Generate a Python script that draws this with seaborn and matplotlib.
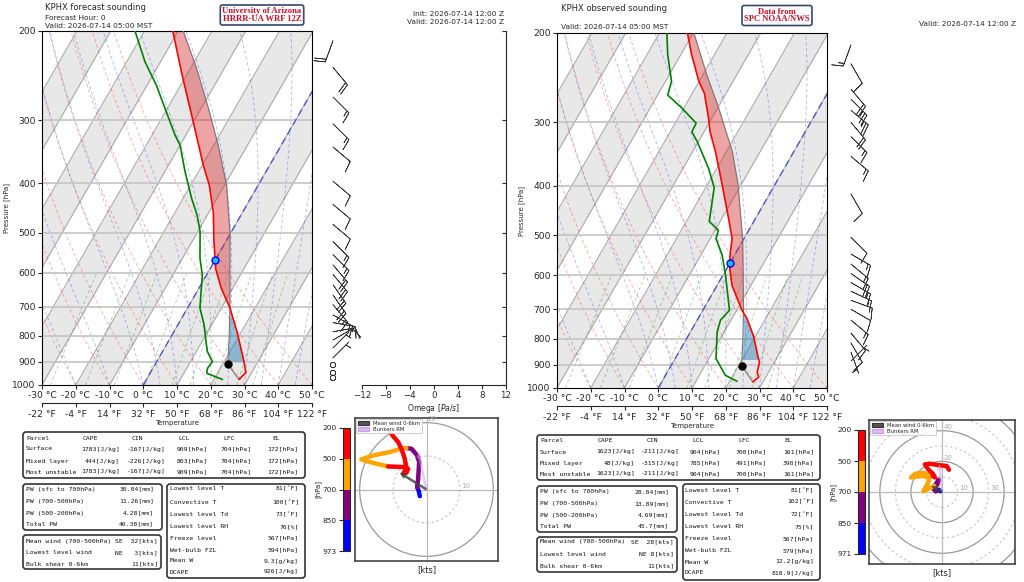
import numpy as np
import matplotlib
matplotlib.use('Agg')
import matplotlib.pyplot as plt
import matplotlib.ticker as mticker
import seaborn as sns
from matplotlib.patches import FancyBboxPatch, Circle, Patch
from matplotlib.colors import ListedColormap, BoundaryNorm
from matplotlib.cm import ScalarMappable

sns.set_theme(style='ticks', context='paper')
plt.rcParams['font.family'] = ['DejaVu Sans']
plt.rcParams['axes.linewidth'] = 0.8
plt.rcParams['xtick.major.width'] = 0.8
plt.rcParams['ytick.major.width'] = 0.8

# ------------------------------------------------------------------ data
# Forecast (left) sounding
fc_t_p = [975, 945, 886, 785, 705, 645, 589, 521, 458, 403, 368, 302, 244, 200]
fc_t = [27.4, 28.3, 25.1, 18.7, 12.6, 6.7, 1.6, -3.5, -8.5, -14.5, -19.7, -30.1, -41.4, -51.6]
fc_td_p = [975, 948, 927, 899, 859, 821, 761, 705, 654, 607, 562, 498, 462, 428, 379, 336, 321, 289, 256, 230, 200]
fc_td = [22.5, 16.8, 16.2, 16.5, 13.3, 11.2, 7.8, 3.7, 1.2, -1.2, -4.8, -9.3, -13.0, -17.5, -24.0, -30.0, -33.2, -39.7, -47.2, -54.6, -62.8]
fc_parcel_p = [975, 910, 800, 700, 600, 500, 403, 336, 284, 237, 200]
fc_parcel_t = [27.4, 21.5, 17.1, 12.3, 6.5, -0.3, -9.4, -18.7, -27.9, -38.2, -48.5]
fc_lcl = (909, 21.5)
fc_frz = (567, 0.0)
fc_lfc = 704
fc_cin_bottom = 900

# Observed (right) sounding
ob_t_p = [973, 951, 930, 889, 869, 793, 730, 703, 628, 573, 539, 508, 457, 398, 342, 313, 294, 263, 249, 221, 200]
ob_t = [27.0, 27.9, 26.6, 25.6, 24.3, 19.6, 14.5, 11.6, 4.4, 0.2, -1.8, -3.5, -8.7, -15.6, -23.3, -28.2, -31.0, -36.4, -40.1, -46.7, -51.7]
ob_td_p = [970, 944, 875, 775, 735, 703, 599, 547, 508, 489, 470, 403, 369, 327, 313, 301, 281, 265, 249, 221, 200]
ob_td = [22.2, 17.7, 12.1, 7.9, 6.9, 7.9, 0.7, -3.7, -8.3, -9.0, -13.2, -17.5, -22.5, -30.4, -33.6, -33.8, -40.6, -47.0, -48.2, -53.8, -57.8]
ob_parcel_p = [973, 904, 800, 700, 600, 508, 398, 342, 281, 242, 200]
ob_parcel_t = [27.0, 20.9, 16.7, 11.9, 6.0, -0.4, -10.9, -18.3, -29.7, -38.8, -49.8]
ob_lcl = (904, 20.9)
ob_frz = (567, 0.0)
ob_lfc = 700
ob_cin_bottom = 880

# Wind barbs (direction from, speed kt)
fc_barb_p = [209, 236, 270, 305, 339, 396, 440, 482, 521, 553, 579, 605, 634, 664, 694, 727, 753, 785, 815, 845, 884, 913, 947, 968]
fc_barb_dir = [200, 140, 135, 135, 130, 130, 130, 130, 135, 135, 140, 140, 145, 145, 140, 120, 100, 80, 60, 45, 45, 45, 45, 45]
fc_barb_spd = [20, 20, 15, 15, 10, 10, 10, 10, 15, 15, 20, 20, 20, 20, 15, 15, 15, 10, 10, 5, 5, 0, 0, 0]
ob_barb_p = [211, 230, 258, 270, 284, 300, 320, 350, 415, 505, 545, 570, 595, 620, 645, 672, 700, 735, 780, 815, 850, 885]
ob_barb_dir = [200, 150, 140, 135, 130, 140, 135, 130, 150, 135, 120, 130, 125, 120, 115, 110, 120, 130, 140, 150, 160, 45]
ob_barb_spd = [15, 10, 20, 25, 25, 20, 15, 15, 10, 10, 15, 15, 20, 15, 15, 10, 10, 15, 10, 10, 5, 5]

# Hodographs (u, v in kt) by layer
fc_hodo_u = [-2.0, -2.3, -2.8,  -2.8, -2.5, -2.2, -2.8, -4.5, -6.0,  -6.0, -7.0, -11.0, -16.0, -19.5, -17.0, -11.5,
             -11.5, -6.5, -5.5, -6.0, -7.0, -6.0, -6.5, -7.5, -8.5, -10.2, -10.8]
fc_hodo_v = [-2.0, -0.5, 0.7,  0.7, 3.2, 8.2, 10.2, 12.2, 12.4,  12.4, 12.4, 11.2, 10.2, 9.0, 8.2, 6.9,
             6.9, 6.7, 6.2, 5.0, 4.7, 6.2, 9.2, 12.2, 14.2, 16.2, 17.2]
fc_hodo_layer = ['850-973'] * 3 + ['700-850'] * 6 + ['500-700'] * 7 + ['200-500'] * 11
fc_mean_wind = (-8.0, 5.0)
fc_bunkers = (-2.5, 11.2)

ob_hodo_u = [-1.0, -2.0, -3.0, -4.0,  -4.0, -5.5, -3.5, -2.0, -3.0, -5.0,
             -5.0, -12.0, -9.0, -8.0, -13.0, -20.0, -17.0, -12.0, -6.0,
             -6.0, -4.5, -6.0, -9.0, -11.0, -8.0, -2.0, 3.0, 4.5]
ob_hodo_v = [0.5, 1.5, 1.0, 0.5,  0.5, 2.0, 6.0, 8.0, 5.0, 4.0,
             4.0, 0.5, 6.0, 9.5, 10.5, 9.5, 12.0, 12.5, 10.5,
             10.5, 9.5, 12.0, 15.0, 18.0, 18.5, 17.5, 17.0, 14.5]
ob_hodo_layer = ['850-971'] * 4 + ['700-850'] * 6 + ['500-700'] * 9 + ['200-500'] * 9
ob_mean_wind = (-6.7, 4.0)
ob_bunkers = (-1.8, 18.0)

# Tables
fc_parcel_rows = [("Surface", "1783[J/kg]", "-167[J/kg]", "909[hPa]", "704[hPa]", "172[hPa]"),
                  ("Mixed layer", "444[J/kg]", "-226[J/kg]", "803[hPa]", "704[hPa]", "172[hPa]"),
                  ("Most unstable", "1783[J/kg]", "-167[J/kg]", "909[hPa]", "704[hPa]", "172[hPa]")]
ob_parcel_rows = [("Surface", "1623[J/kg]", "-211[J/kg]", "904[hPa]", "700[hPa]", "161[hPa]"),
                  ("Mixed layer", "48[J/kg]", "-315[J/kg]", "785[hPa]", "491[hPa]", "390[hPa]"),
                  ("Most unstable", "1623[J/kg]", "-211[J/kg]", "904[hPa]", "700[hPa]", "161[hPa]")]
parcel_header = ["Parcel", "CAPE", "CIN", "LCL", "LFC", "EL"]
pw_labels = ["PW (sfc to 700hPa)", "PW (700-500hPa)", "PW (500-200hPa)", "Total PW"]
fc_pw = ["30.84[mm]", "11.26[mm]", "4.28[mm]", "46.38[mm]"]
ob_pw = ["28.84[mm]", "13.89[mm]", "4.69[mm]", "45.7[mm]"]
wind_labels = ["Mean wind (700-500hPa)", "Lowest level wind", "Bulk shear 0-6km"]
fc_wind = ["SE  32[kts]", "NE   3[kts]", "11[kts]"]
ob_wind = ["SE  28[kts]", "NE 8[kts]", "11[kts]"]
thermo_labels = ["Lowest level T", "Convective T", "Lowest level Td", "Lowest level RH",
                 "Freeze level", "Wet-bulb FZL", "Mean W", "DCAPE"]
fc_thermo = ["81[\u02daF]", "100[\u02daF]", "73[\u02daF]", "76[%]", "567[hPa]", "594[hPa]", "9.3[g/kg]", "926[J/kg]"]
ob_thermo = ["81[\u02daF]", "102[\u02daF]", "72[\u02daF]", "75[%]", "567[hPa]", "579[hPa]", "12.2[g/kg]", "818.9[J/kg]"]

temp_ticks_c = [-30, -20, -10, 0, 10, 20, 30, 40, 50]
temp_ticks_f = [-22, -4, 14, 32, 50, 68, 86, 104, 122]
press_ticks = [200, 300, 400, 500, 600, 700, 800, 900, 1000]
mix_w = [0.0004, 0.001, 0.002, 0.004, 0.007, 0.01, 0.016, 0.024, 0.032]

# ------------------------------------------------------------------ helpers
K = 37.5
RD, CP, LV, EPS = 287.04, 1005.7, 2.501e6, 0.622


def skx(t, p):
    return np.asarray(t, float) + K * np.log(1000.0 / np.asarray(p, float))


def esat(tc):
    return 6.112 * np.exp(17.67 * tc / (tc + 243.5))


def moist_adiabat(t0c, pg):
    def f(p, T):
        tc = T - 273.15
        es = esat(tc)
        rs = EPS * es / (p - es)
        return (RD * T + LV * rs) / ((CP + LV * LV * rs * EPS / (RD * T * T)) * p)
    T = t0c + 273.15
    out = [T]
    for i in range(1, len(pg)):
        p0, p1 = pg[i - 1], pg[i]
        h = p1 - p0
        k1 = f(p0, T)
        k2 = f(p0 + h / 2, T + h * k1 / 2)
        k3 = f(p0 + h / 2, T + h * k2 / 2)
        k4 = f(p1, T + h * k3)
        T = T + h * (k1 + 2 * k2 + 2 * k3 + k4) / 6
        out.append(T)
    return np.array(out) - 273.15


def interp_p(pg, p, v):
    p = np.asarray(p, float)
    v = np.asarray(v, float)
    return np.interp(np.log(pg), np.log(p[::-1]), v[::-1])


W, H = 1024, 582
fig = plt.figure(figsize=(W / 100, H / 100), dpi=100)
fig.patch.set_facecolor('white')
ov = fig.add_axes([0, 0, 1, 1])
ov.set_xlim(0, W)
ov.set_ylim(H, 0)
ov.axis('off')


def px_axes(x0, y0, x1, y1):
    return fig.add_axes([x0 / W, 1 - y1 / H, (x1 - x0) / W, (y1 - y0) / H])


def draw_skewt(ax, tp, tt, dp, dt, pp, pt, lcl, frz, lfc, cin_bot):
    pg = np.geomspace(1000, 200, 300)
    for t0 in range(-120, 60, 20):
        ax.fill_betweenx(pg, skx(t0, pg), skx(t0 + 10, pg), color='#e8e8e8', lw=0, zorder=0)
    for t in range(-130, 60, 10):
        ax.plot(skx(t, pg), pg, color='#aaaaaa', lw=0.8, zorder=1)
    for t0 in range(-30, 51, 10):
        tt_d = (t0 + 273.15) * (pg / 1000.0) ** 0.2857 - 273.15
        ax.plot(skx(tt_d, pg), pg, color='red', alpha=0.35, lw=0.6, ls=(0, (4, 3)), zorder=1)
    for t0 in list(range(-30, 0, 10)) + list(range(0, 51, 5)):
        tm = moist_adiabat(t0, pg)
        ax.plot(skx(tm, pg), pg, color='blue', alpha=0.3, lw=0.6, ls=(0, (4, 3)), zorder=1)
    pm = np.geomspace(1000, 600, 60)
    for w in mix_w:
        e = w * pm / (EPS + w)
        l = np.log(e / 6.112)
        tdm = 243.5 * l / (17.67 - l)
        ax.plot(skx(tdm, pm), pm, color='green', alpha=0.35, lw=0.6, ls=(0, (4, 3)), zorder=1)
    for p in press_ticks[1:-1]:
        ax.axhline(p, color='#c4c4c4', lw=1.2, zorder=1.2)
    ax.plot(skx(0, pg), pg, color='#3030d0', lw=1.0, alpha=0.75, ls=(0, (5, 3)), zorder=1.5)

    # CAPE / CIN shading
    tg = interp_p(pg, tp, tt)
    parg = interp_p(pg, pp, pt)
    cape = (parg > tg) & (pg <= lfc + 2)
    cin = (parg <= tg) & (pg <= cin_bot) & (pg >= lfc - 2)
    ax.fill_betweenx(pg, skx(tg, pg), skx(parg, pg), where=cape, color='#d62728', alpha=0.42,
                     lw=0, interpolate=True, zorder=2)
    ax.fill_betweenx(pg, skx(tg, pg), skx(parg, pg), where=cin, color='#1f77b4', alpha=0.45,
                     lw=0, interpolate=True, zorder=2)

    sns.lineplot(x=skx(pt, pp), y=pp, sort=False, estimator=None, color='#777777', lw=0.8, ax=ax, zorder=3)
    sns.lineplot(x=skx(tt, tp), y=tp, sort=False, estimator=None, color='red', lw=1.2, ax=ax, zorder=4)
    sns.lineplot(x=skx(dt, dp), y=dp, sort=False, estimator=None, color='green', lw=1.2, ax=ax, zorder=4)
    ax.plot(skx(lcl[1], lcl[0]), lcl[0], 'o', color='black', ms=5, zorder=5)
    ax.plot(skx(frz[1], frz[0]), frz[0], 'o', mfc='#22bbff', mec='blue', ms=5, mew=1, zorder=5)

    ax.set_yscale('log')
    ax.set_ylim(1000, 200)
    ax.set_xlim(-30, 50)
    ax.set_yticks(press_ticks)
    ax.yaxis.set_major_formatter(mticker.FixedFormatter([str(p) for p in press_ticks]))
    ax.yaxis.set_minor_locator(mticker.NullLocator())
    ax.set_xticks(temp_ticks_c)
    ax.set_xticklabels([f"{t} \u00b0C" for t in temp_ticks_c])
    ax.tick_params(labelsize=6.6, length=3, pad=1.5)
    ax.set_xlabel('')
    ax.set_ylabel('Pressure [hPa]', fontsize=5, labelpad=2)
    for s in ax.spines.values():
        s.set_color('black')
        s.set_linewidth(0.8)
    sec = ax.secondary_xaxis(-0.052)
    sec.set_xticks(temp_ticks_c)
    sec.set_xticklabels([f"{t} \u00b0F" for t in temp_ticks_f])
    sec.tick_params(labelsize=6.6, length=3, pad=1.5)
    sec.set_xlabel('Temperature', fontsize=5, labelpad=1)


def draw_barbs(ax, p, d, s):
    d = np.radians(np.asarray(d, float))
    s = np.asarray(s, float)
    u = -s * np.sin(d)
    v = -s * np.cos(d)
    b = ax.barbs(np.zeros(len(p)), p, u, v, length=5.7, lw=0.5, color='#333333',
                 sizes=dict(emptybarb=0.12, height=0.5))
    b.set_clip_on(False)
    ax.set_yscale('log')
    ax.set_ylim(1000, 200)
    ax.set_xlim(-1, 1)
    ax.axis('off')


layer_colors = ['blue', 'purple', 'orange', 'red']


def draw_hodo(ax, u, v, layers, lim, rings, mw, brm):
    for r in rings:
        odd = (r // 10) % 2 == 1
        ax.add_patch(Circle((0, 0), r, fill=False, ec='#cccccc' if odd else '#999999',
                            lw=0.9, ls=(0, (2, 2)) if odd else '-', zorder=1))
        if r < lim:
            xy = (r, 0) if odd else (0, r)
            ax.annotate(str(r), xy, xytext=(1, 0.5), textcoords='offset points',
                        fontsize=5, color='#aaaaaa', ha='left', va='bottom')
    ax.axhline(0, color='#bbbbbb', lw=0.9, zorder=1)
    ax.axvline(0, color='#bbbbbb', lw=0.9, zorder=1)
    u = np.asarray(u)
    v = np.asarray(v)
    lay = np.asarray(layers)
    names = list(dict.fromkeys(layers))
    for name, col in zip(names, layer_colors):
        m = lay == name
        sns.lineplot(x=u[m], y=v[m], sort=False, estimator=None, color=col, lw=3.2, ax=ax, zorder=3)
    ax.arrow(0, 0, brm[0], brm[1], width=lim * 0.035, head_width=lim * 0.08, head_length=lim * 0.08,
             length_includes_head=True, color='#c9a0ea', alpha=0.55, lw=0, zorder=4)
    ax.arrow(0, 0, mw[0], mw[1], width=lim * 0.035, head_width=lim * 0.09, head_length=lim * 0.09,
             length_includes_head=True, color='#444444', alpha=0.85, lw=0, zorder=5)
    ax.set_xlim(-lim, lim)
    ax.set_ylim(-lim, lim)
    ax.set_xticks([])
    ax.set_yticks([])
    ax.set_ylabel('')
    ax.set_xlabel('[kts]', fontsize=6, labelpad=3)
    for s in ax.spines.values():
        s.set_color('#444444')
        s.set_linewidth(1.2)
    ax.legend(handles=[Patch(fc='#555555', ec='#333333'), Patch(fc='#dcb8f2', ec='#c9a0ea')],
              labels=['Mean wind 0-6km', 'Bunkers RM'], loc='upper left', fontsize=3.8,
              frameon=True, handlelength=2.2, handleheight=0.9, borderpad=0.3, labelspacing=0.2,
              borderaxespad=0.2, framealpha=0.9)


def draw_cbar(cax, labels):
    cmap = ListedColormap(layer_colors)
    norm = BoundaryNorm([0, 1, 2, 3, 4], 4)
    cb = fig.colorbar(ScalarMappable(norm=norm, cmap=cmap), cax=cax)
    cb.set_ticks([0, 1, 2, 3, 4])
    cb.set_ticklabels(labels)
    cax.yaxis.set_ticks_position('left')
    cax.yaxis.set_label_position('left')
    cax.tick_params(labelsize=5.3, length=3, pad=1.5)
    cb.set_label('[hPa]', fontsize=5, labelpad=1)
    cb.outline.set_linewidth(0.8)


def box(x0, y0, x1, y1):
    ov.add_patch(FancyBboxPatch((x0, y0), x1 - x0, y1 - y0, boxstyle='round,pad=0,rounding_size=3',
                                fc='none', ec='#333333', lw=1.2))


MONO = dict(family='DejaVu Sans Mono', fontsize=4.6, va='center', color='#111111')


def tables(x_lab, hdr_x, val_x, rows_y, prow, pbox, pw_box, pw_vals, pw_y, pw_vx,
           w_box, w_vals, w_y, w_vx, th_box, th_vals, th_y, th_lx, th_vx):
    box(*pbox)
    for hx, h in zip([x_lab] + hdr_x, parcel_header):
        ov.text(hx, rows_y[0], h, ha='left', **MONO)
    for ry, row in zip(rows_y[1:], prow):
        ov.text(x_lab, ry, row[0], ha='left', **MONO)
        for vx, val in zip(val_x, row[1:]):
            ov.text(vx, ry, val, ha='right', **MONO)
    box(*pw_box)
    for y, lab, val in zip(pw_y, pw_labels, pw_vals):
        ov.text(x_lab, y, lab, ha='left', **MONO)
        ov.text(pw_vx, y, val, ha='right', **MONO)
    box(*w_box)
    for y, lab, val in zip(w_y, wind_labels, w_vals):
        ov.text(x_lab, y, lab, ha='left', **MONO)
        ov.text(w_vx, y, val, ha='right', **MONO)
    box(*th_box)
    for y, lab, val in zip(th_y, thermo_labels, th_vals):
        ov.text(th_lx, y, lab, ha='left', **MONO)
        ov.text(th_vx, y, val, ha='right', **MONO)


# ------------------------------------------------------------------ left panel
axL = px_axes(42, 31, 312, 385)
draw_skewt(axL, fc_t_p, fc_t, fc_td_p, fc_td, fc_parcel_p, fc_parcel_t, fc_lcl, fc_frz, fc_lfc, fc_cin_bottom)

axO = px_axes(362, 31, 506, 385)
axO.set_yscale('log')
axO.set_ylim(1000, 200)
axO.set_xlim(-12, 12)
axO.set_xticks(range(-12, 13, 4))
axO.set_yticks(press_ticks)
axO.yaxis.set_minor_locator(mticker.NullLocator())
axO.yaxis.set_major_formatter(mticker.NullFormatter())
axO.yaxis.set_ticks_position('right')
axO.tick_params(axis='y', direction='in', length=3)
axO.tick_params(axis='x', labelsize=6.2, length=3, pad=1.5)
axO.spines['left'].set_visible(False)
axO.spines['top'].set_visible(False)
axO.set_xlabel('Omega [$Pa/s$]', fontsize=5.5, labelpad=1)
axO.patch.set_alpha(0)

bL = px_axes(318, 31, 348, 385)
draw_barbs(bL, fc_barb_p, fc_barb_dir, fc_barb_spd)

hL = px_axes(355, 418, 498, 561)
draw_hodo(hL, fc_hodo_u, fc_hodo_v, fc_hodo_layer, 21.4, [10, 20, 30], fc_mean_wind, fc_bunkers)
cL = px_axes(343, 428, 350, 551)
draw_cbar(cL, ['973', '850', '700', '500', '200'])

tables(26, [83, 132, 178, 223, 272], [120, 166, 208, 252, 298], [438, 449, 461, 472], fc_parcel_rows,
       (23, 432, 305, 478), (23, 484, 162, 530), fc_pw, [489, 501, 513, 524], 154,
       (23, 535, 161, 569), fc_wind, [541, 553, 564], 158,
       (167, 484, 305, 578), fc_thermo, [489, 503, 515, 527, 538, 550, 561, 572], 170, 299)

ov.text(45, 7, 'KPHX forecast sounding', fontsize=6.0, ha='left', va='center')
ov.text(45, 18, 'Forecast Hour: 0', fontsize=5.3, ha='left', va='center')
ov.text(45, 25.5, 'Valid: 2026-07-14 05:00 MST', fontsize=5.3, ha='left', va='center')
ov.text(262, 15, 'University of Arizona\nHRRR-UA WRF 12Z', fontsize=6.2, ha='center', va='center',
        family='Liberation Serif', weight='bold', color='#c0102a', linespacing=0.95,
        bbox=dict(boxstyle='round,pad=0.25', fc='white', ec='#34486b', lw=1.2))
ov.text(504, 14.5, 'Init: 2026-07-14 12:00 Z', fontsize=5.3, ha='right', va='center')
ov.text(504, 22.5, 'Valid: 2026-07-14 12:00 Z', fontsize=5.3, ha='right', va='center')

# ------------------------------------------------------------------ right panel
axR = px_axes(557, 33, 827, 388)
draw_skewt(axR, ob_t_p, ob_t, ob_td_p, ob_td, ob_parcel_p, ob_parcel_t, ob_lcl, ob_frz, ob_lfc, ob_cin_bottom)

bR = px_axes(836, 33, 866, 388)
draw_barbs(bR, ob_barb_p, ob_barb_dir, ob_barb_spd)

hR = px_axes(869, 420, 1015, 564)
draw_hodo(hR, ob_hodo_u, ob_hodo_v, ob_hodo_layer, 47, [10, 20, 30, 40, 50, 60], ob_mean_wind, ob_bunkers)
cR = px_axes(858, 430, 865, 554)
draw_cbar(cR, ['971', '850', '700', '500', '200'])

tables(540, [598, 647, 692, 738, 784], [635, 680, 721, 767, 814], [441, 452, 463, 474], ob_parcel_rows,
       (537, 435, 820, 480), (537, 486, 677, 532), ob_pw, [492, 504, 515, 526], 669,
       (537, 537, 677, 572), ob_wind, [542, 554, 566], 674,
       (683, 484, 820, 580), ob_thermo, [491, 502, 515, 527, 539, 551, 562, 573], 685, 814)

ov.text(561, 8.5, 'KPHX observed sounding', fontsize=6.0, ha='left', va='center')
ov.text(561, 27, 'Valid: 2026-07-14 05:00 MST', fontsize=5.3, ha='left', va='center')
ov.text(777, 15.5, 'Data from\nSPC NOAA/NWS', fontsize=6.2, ha='center', va='center',
        family='Liberation Serif', weight='bold', color='#c0102a', linespacing=0.95,
        bbox=dict(boxstyle='round,pad=0.25', fc='white', ec='#34486b', lw=1.2))
ov.text(1016, 24, 'Valid: 2026-07-14 12:00 Z', fontsize=5.3, ha='right', va='center')

fig.savefig('out.png', dpi=100, facecolor='white')
